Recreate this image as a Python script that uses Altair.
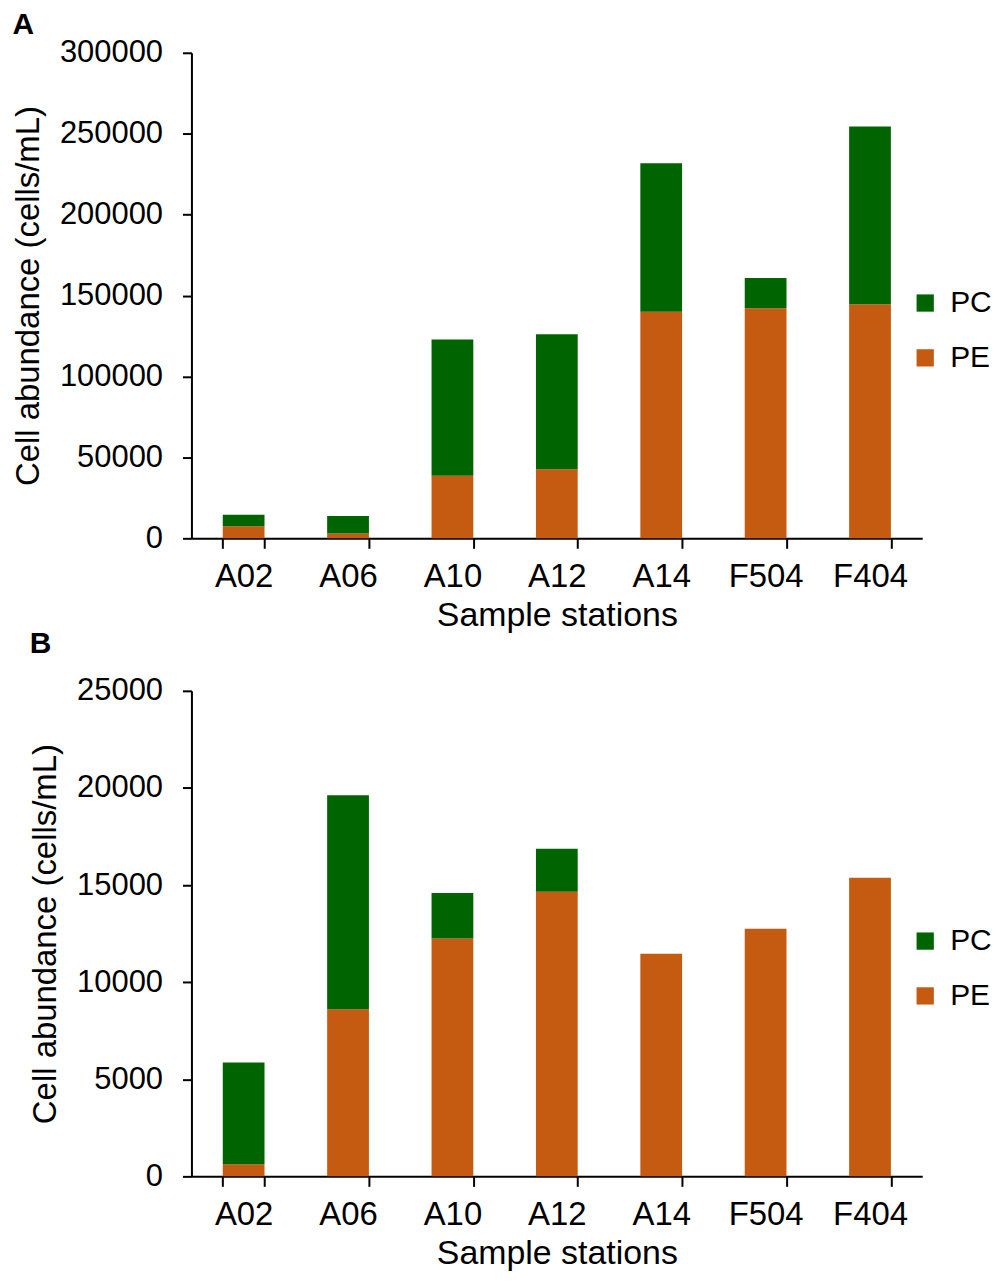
import altair as alt
import pandas as pd

stations = ["A02", "A06", "A10", "A12", "A14", "F504", "F404"]
types = ["PC", "PE"]
colors = ["#006400", "#C55A11"]

# Panel A values (cells/mL)
pe_a = [7500, 3000, 38700, 42700, 140000, 142200, 144700]
pc_a = [7100, 10800, 84200, 83400, 91700, 18600, 109800]

# Panel B values (cells/mL)
pe_b = [620, 8600, 12250, 14650, 11460, 12750, 15370]
pc_b = [5240, 11020, 2340, 2220, 0, 0, 0]

y_ticks_a = [0, 50000, 100000, 150000, 200000, 250000, 300000]
y_ticks_b = [0, 5000, 10000, 15000, 20000, 25000]

FONT = "Liberation Sans"


def make_df(pe, pc):
    rows = []
    for s, e, c in zip(stations, pe, pc):
        rows.append({"station": s, "type": "PE", "value": e, "ord": 0})
        rows.append({"station": s, "type": "PC", "value": c, "ord": 1})
    return pd.DataFrame(rows)


def panel(pe, pc, letter, ticks, title_offset):
    df = make_df(pe, pc)
    return alt.Chart(df).mark_bar().encode(
        x=alt.X(
            "station:N",
            sort=stations,
            title="Sample stations",
            scale=alt.Scale(paddingInner=0.6, paddingOuter=0.3),
            axis=alt.Axis(
                tickBand="extent", labelAngle=0, labelFontSize=33, titleFontSize=34,
                labelPadding=12, titlePadding=5, tickSize=10,
            ),
        ),
        y=alt.Y(
            "value:Q",
            stack="zero",
            title="Cell abundance (cells/mL)",
            scale=alt.Scale(domain=[ticks[0], ticks[-1]], nice=False),
            axis=alt.Axis(
                values=ticks, format="d", labelFontSize=31, titleFontSize=33,
                labelPadding=20, titlePadding=14, tickSize=9,
            ),
        ),
        color=alt.Color(
            "type:N",
            scale=alt.Scale(domain=types, range=colors),
            legend=alt.Legend(
                title=None, orient="none", legendX=721, legendY=236,
                direction="vertical", symbolType="square", symbolSize=300,
                symbolStrokeWidth=0, labelFontSize=30, labelOffset=10,
                rowPadding=25, labelFont=FONT, padding=0,
            ),
        ),
        order=alt.Order("ord:Q", sort="ascending"),
    ).properties(
        width=733,
        height=487,
        title=alt.TitleParams(
            letter, anchor="start", frame="bounds", fontSize=30,
            fontWeight="bold", font=FONT, offset=title_offset,
        ),
    )


chart_a = panel(pe_a, pc_a, "A", y_ticks_a, -3)
chart_b = panel(pe_b, pc_b, "B", y_ticks_b, 16)

chart = alt.vconcat(chart_a, chart_b, spacing=153, bounds="flush").resolve_scale(
    color="independent"
).properties(
    padding={"left": 4, "top": 0, "right": 0, "bottom": 0}
).configure_axis(
    labelFont=FONT, titleFont=FONT, titleFontWeight="normal",
    labelColor="#000000", titleColor="#000000",
    domainColor="#000000", tickColor="#000000",
    domainWidth=2, tickWidth=2, grid=False,
).configure_view(stroke=None)

chart.save("out.html", embed_options={"renderer": "svg", "actions": False})
